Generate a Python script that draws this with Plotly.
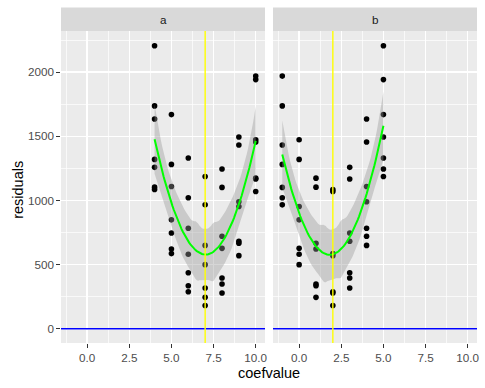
import numpy as np
import plotly.graph_objects as go
from plotly.subplots import make_subplots

# ---- data ----
coef_a = [4, 5, 6, 7, 8, 9, 10]          # values of coefficient a
coef_b = [-1, 0, 1, 2, 3, 4, 5]          # values of coefficient b
# residuals[i][j] for a = coef_a[i], b = coef_b[j]
residuals = [
    [1737, 1320, 1104, 1086, 1258, 1635, 2205],
    [1281,  849,  622,  586,  747, 1109, 1669],
    [1021,  581,  336,  289,  437,  784, 1331],
    [ 966,  500,  245,  182,  318,  650, 1187],
    [1102,  627,  349,  279,  396,  721, 1245],
    [1432,  953,  667,  570,  682,  990, 1495],
    [1969, 1473, 1174, 1070, 1167, 1456, 1942],
]
true_a = 7
true_b = 2
ref_line = 0
panel_labels = ["a", "b"]
x_ticks = [0, 2.5, 5, 7.5, 10]
x_tick_text = ["0.0", "2.5", "5.0", "7.5", "10.0"]
y_ticks = [0, 500, 1000, 1500, 2000]

# ---- long form ----
xa, xb, yr = [], [], []
for i, a in enumerate(coef_a):
    for j, b in enumerate(coef_b):
        xa.append(a); xb.append(b); yr.append(residuals[i][j])
xa = np.array(xa, float); xb = np.array(xb, float); yr = np.array(yr, float)


def t_quantile(df, p=0.975):
    try:
        from scipy.stats import t
        return float(t.ppf(p, df))
    except Exception:
        z = 1.959963985
        g1 = (z**3 + z) / 4
        g2 = (5*z**5 + 16*z**3 + 3*z) / 96
        g3 = (3*z**7 + 19*z**5 + 17*z**3 - 15*z) / 384
        return z + g1/df + g2/df**2 + g3/df**3


def loess(x, y, xe, span=0.75):
    n = len(x)
    q = int(np.floor(n * span))

    def row(x0):
        d = np.abs(x - x0)
        h = np.sort(d)[q - 1]
        u = d / h
        w = np.where(u < 1, (1 - u**3)**3, 0.0)
        X = np.column_stack([np.ones(n), x - x0, (x - x0)**2])
        XtW = X.T * w
        return np.linalg.solve(XtW @ X, XtW)[0]

    L = np.array([row(v) for v in x])
    res = y - L @ y
    IL = np.eye(n) - L
    M = IL.T @ IL
    d1 = np.trace(M); d2 = np.trace(M @ M)
    s = np.sqrt(np.sum(res**2) / d1)
    tq = t_quantile(d1**2 / d2)
    Le = np.array([row(v) for v in xe])
    fit = Le @ y
    se = s * np.sqrt(np.sum(Le**2, axis=1))
    return fit, fit - tq*se, fit + tq*se


fig = make_subplots(rows=1, cols=2, shared_yaxes=True, horizontal_spacing=8/416)

for col, (xv, vline) in enumerate([(xa, true_a), (xb, true_b)], start=1):
    fig.add_trace(go.Scatter(x=xv, y=yr, mode="markers",
                             marker=dict(color="black", size=5.6),
                             showlegend=False, hoverinfo="skip"), row=1, col=col)
    xs = np.linspace(xv.min(), xv.max(), 80)
    fit, lo, hi = loess(xv, yr, xs)
    fig.add_trace(go.Scatter(x=np.concatenate([xs, xs[::-1]]),
                             y=np.concatenate([hi, lo[::-1]]),
                             fill="toself", fillcolor="rgba(153,153,153,0.4)",
                             line=dict(width=0), mode="lines",
                             showlegend=False, hoverinfo="skip"), row=1, col=col)
    fig.add_trace(go.Scatter(x=xs, y=fit, mode="lines",
                             line=dict(color="#00FF00", width=2),
                             showlegend=False, hoverinfo="skip"), row=1, col=col)
    xref = "x" if col == 1 else "x2"
    yref = "y" if col == 1 else "y2"
    fig.add_shape(type="line", xref=f"{xref} domain", yref=yref,
                  x0=0, x1=1, y0=ref_line, y1=ref_line,
                  line=dict(color="#0000FF", width=1.4), layer="above")
    fig.add_shape(type="line", xref=xref, yref=f"{yref} domain",
                  x0=vline, x1=vline, y0=0, y1=1,
                  line=dict(color="#FFFF00", width=1.4), layer="above")

# strips
strip_h = 23.4 / 312
doms = [(0, 204/416), (212/416, 1)]
for (d0, d1), lab in zip(doms, panel_labels):
    fig.add_shape(type="rect", xref="paper", yref="paper", x0=d0, x1=d1,
                  y0=1, y1=1 + strip_h, fillcolor="#D9D9D9", line=dict(width=0))
    fig.add_annotation(x=(d0 + d1)/2, y=1 + strip_h/2, xref="paper", yref="paper",
                       text=lab, showarrow=False, xanchor="center", yanchor="middle",
                       font=dict(size=11.7, color="#1A1A1A"))

axis_common = dict(showgrid=True, gridcolor="white", gridwidth=1.4,
                   zeroline=False, showline=False, ticks="outside",
                   ticklen=3.7, tickwidth=1.07, tickcolor="#333333", automargin=False,
                   tickfont=dict(family="Liberation Sans, Arial", size=11.7, color="#4D4D4D"))

for k, dom in zip(["xaxis", "xaxis2"], doms):
    fig.layout[k].update(range=[-1.55, 10.55], domain=list(dom),
                         tickvals=x_ticks, ticktext=x_tick_text,
                         minor=dict(tick0=1.25, dtick=2.5, showgrid=True,
                                    gridcolor="white", gridwidth=0.7, ticks=""),
                         **axis_common)

fig.layout.yaxis.update(range=[-110.5, 2320.5], tickvals=y_ticks,
                        minor=dict(tick0=250, dtick=500, showgrid=True,
                                   gridcolor="white", gridwidth=0.7, ticks=""),
                        **axis_common)
fig.layout.yaxis2.update(range=[-110.5, 2320.5], tickvals=y_ticks,
                         minor=dict(tick0=250, dtick=500, showgrid=True,
                                    gridcolor="white", gridwidth=0.7, ticks=""),
                         **{**axis_common, "ticks": ""}, showticklabels=False)

fig.add_annotation(x=0.5, y=-0.095, xref="paper", yref="paper", text="coefvalue",
                   xanchor="center", yanchor="middle",
                   showarrow=False, font=dict(size=14.5, color="black"))
fig.add_annotation(x=-0.104, y=0.49, xref="paper", yref="paper", text="residuals",
                   xanchor="center", yanchor="middle",
                   textangle=-90, showarrow=False, font=dict(size=14.5, color="black"))

fig.update_layout(width=485, height=388,
                  margin=dict(l=61, r=8, t=31, b=45),
                  plot_bgcolor="#EBEBEB", paper_bgcolor="white",
                  font=dict(family="Liberation Sans, Arial"),
                  showlegend=False, hovermode=False)

fig.write_html("out.html", config={"displayModeBar": False, "staticPlot": True},
               post_script="document.body.style.margin='0px';")
